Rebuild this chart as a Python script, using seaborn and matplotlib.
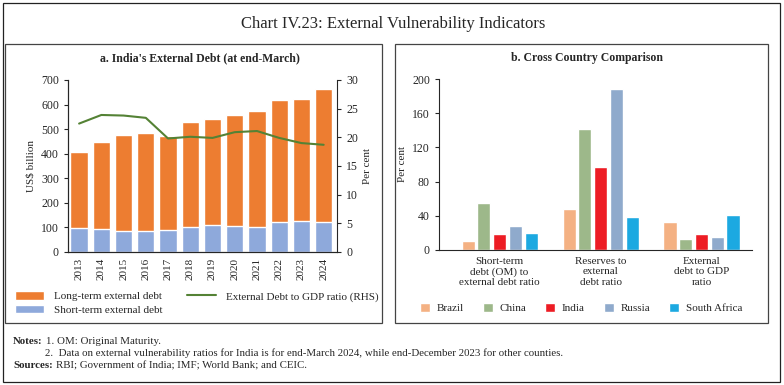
import numpy as np
import pandas as pd
import matplotlib.pyplot as plt
import seaborn as sns
from matplotlib.patches import Rectangle

# --- Data: panel a (India's external debt, US$ billion / per cent) ---
years = ["2013", "2014", "2015", "2016", "2017", "2018",
         "2019", "2020", "2021", "2022", "2023", "2024"]
long_term = [313, 354, 390, 401, 383, 428, 435, 452, 473, 498, 497, 540]
short_term = [96, 92, 85, 84, 88, 101, 108, 106, 100, 121, 127, 123]
debt_gdp_ratio = [22.4, 23.9, 23.8, 23.4, 19.8, 20.1, 19.9, 20.9, 21.1, 19.9, 19.0, 18.7]

# --- Data: panel b (cross country comparison, per cent) ---
indicators = ["Short-term\ndebt (OM) to\nexternal debt ratio",
              "Reserves to\nexternal\ndebt ratio",
              "External\ndebt to GDP\nratio"]
countries = ["Brazil", "China", "India", "Russia", "South Africa"]
st_debt_ratio = [11, 55, 18.5, 28, 20]
reserves_ratio = [48, 141, 97.5, 188, 39]
ext_debt_gdp = [33, 13, 18.7, 15, 41]

ORANGE = "#ED7D31"
LIGHTBLUE = "#8EA9DB"
GREEN = "#548235"
country_colors = ["#F4B183", "#9DB88A", "#ED1C24", "#8FAACC", "#1CA9E1"]

sns.set_style("ticks")
plt.rcParams["font.family"] = ["Liberation Serif", "DejaVu Serif"]
plt.rcParams["font.size"] = 8
plt.rcParams["axes.linewidth"] = 0.8

fig = plt.figure(figsize=(7.84, 3.85), dpi=100)
W, H = 784, 385


def fx(px):
    return px / W


def fy(py):
    return 1 - py / H


# frames
fig.patches.append(Rectangle((fx(3), fy(382)), fx(777), 379 / H, transform=fig.transFigure,
                             fill=False, ec="#222222", lw=0.9))
for x0, x1 in [(5, 382), (395, 768)]:
    fig.patches.append(Rectangle((fx(x0), fy(323)), fx(x1 - x0), 279 / H, transform=fig.transFigure,
                                 fill=False, ec="#444444", lw=0.9))

fig.text(fx(393), fy(24), "Chart IV.23: External Vulnerability Indicators", ha="center", va="center",
         fontsize=12)

# --- Panel a ---
ax1 = fig.add_axes([fx(68), fy(252), fx(269), 172 / H])
df_a = pd.DataFrame({"year": years, "long": long_term, "short": short_term})
df_a["total"] = df_a["long"] + df_a["short"]
sns.barplot(data=df_a, x="year", y="total", color=ORANGE, saturation=1, width=0.78,
            ax=ax1, label="Long-term external debt")
sns.barplot(data=df_a, x="year", y="short", color=LIGHTBLUE, saturation=1, width=0.78,
            ax=ax1, label="Short-term external debt")
ax1.set_ylim(0, 700)
ax1.set_yticks(range(0, 701, 100))
ax1.set_xlim(-0.5, 11.6)
ax1.set_xlabel("")
ax1.set_ylabel("US$ billion", fontsize=8)
ax1.tick_params(axis="x", rotation=90, length=0, pad=4, labelsize=8)
ax1.tick_params(axis="y", length=3, width=0.8, labelsize=8.5)
ax1.spines["top"].set_visible(False)
ax1.spines["right"].set_visible(False)

ax1r = ax1.twinx()
sns.lineplot(x=np.arange(len(years)), y=debt_gdp_ratio, color=GREEN, lw=1.5, ax=ax1r,
             label="External Debt to GDP ratio (RHS)", legend=False)
ax1r.set_ylim(0, 30)
ax1r.set_yticks(range(0, 31, 5))
ax1r.set_ylabel("Per cent", fontsize=8)
ax1r.tick_params(axis="y", length=3, width=0.8, labelsize=8.5)
ax1r.spines["top"].set_visible(False)
for ax in (ax1, ax1r):
    if ax.get_legend():
        ax.get_legend().remove()

h1, l1 = ax1.get_legend_handles_labels()
h2, l2 = ax1r.get_legend_handles_labels()
fig.legend(h1 + h2, l1 + l2, loc="center", bbox_to_anchor=(fx(197), fy(303)), ncol=2,
           frameon=False, fontsize=8, handlelength=2.6, handleheight=0.8,
           columnspacing=2.2, labelspacing=0.3, handletextpad=0.9)

fig.text(fx(200), fy(58), "a. India's External Debt (at end-March)", ha="center", va="center",
         fontsize=8.5, fontweight="bold")

# --- Panel b ---
ax2 = fig.add_axes([fx(439), fy(250), fx(313), 171 / H])
df_b = pd.DataFrame({
    "indicator": np.repeat(indicators, len(countries)),
    "country": countries * len(indicators),
    "value": st_debt_ratio + reserves_ratio + ext_debt_gdp,
})
sns.barplot(data=df_b, x="indicator", y="value", hue="country", palette=country_colors,
            saturation=1, width=0.78, gap=0.17, ax=ax2)
ax2.set_ylim(0, 200)
ax2.set_yticks(range(0, 201, 40))
ax2.set_xlim(-0.6, 2.5)
ax2.set_xlabel("")
ax2.set_ylabel("Per cent", fontsize=8)
ax2.tick_params(axis="x", length=0, pad=5, labelsize=8)
ax2.tick_params(axis="y", length=3, width=0.8, labelsize=8.5)
sns.despine(ax=ax2)
h3, l3 = ax2.get_legend_handles_labels()
ax2.get_legend().remove()
fig.legend(h3, l3, loc="center", bbox_to_anchor=(fx(581), fy(308)), ncol=5, frameon=False,
           fontsize=8, handlelength=0.9, handleheight=0.9, columnspacing=1.7, handletextpad=0.6)

fig.text(fx(587), fy(58), "b. Cross Country Comparison", ha="center", va="center",
         fontsize=8.5, fontweight="bold")

# --- Notes ---
fs = 7.8
renderer = fig.canvas.get_renderer()


def bold_lead(x, y, lead, rest):
    t = fig.text(fx(x), fy(y), lead, fontweight="bold", fontsize=fs, va="center")
    bb = t.get_window_extent(renderer=renderer)
    fig.text(fx(bb.x1 + 3), fy(y), rest, fontsize=fs, va="center")


bold_lead(13, 341, "Notes:", "1. OM: Original Maturity.")
fig.text(fx(45), fy(353), "2.  Data on external vulnerability ratios for India is for end-March 2024, "
         "while end-December 2023 for other counties.", fontsize=fs, va="center")
bold_lead(13, 366, "Sources:", "RBI; Government of India; IMF; World Bank; and CEIC.")

fig.savefig("out.png", dpi=100)
